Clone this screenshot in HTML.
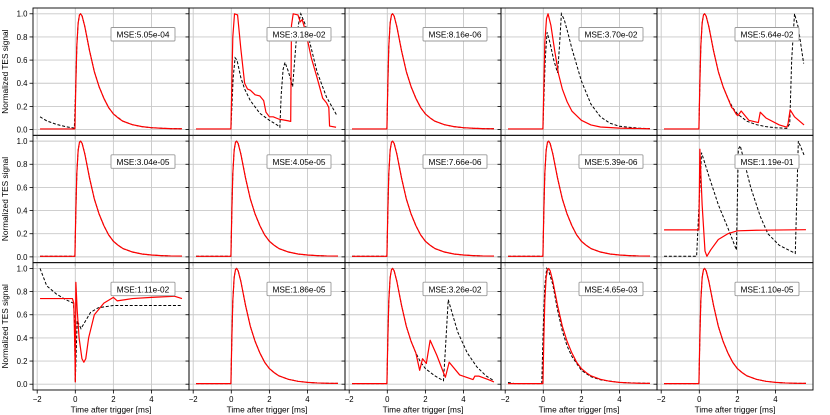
<!DOCTYPE html>
<html><head><meta charset="utf-8">
<style>
html,body{margin:0;padding:0;background:#fff;}
svg{display:block;font-family:"Liberation Sans","DejaVu Sans",sans-serif;}
</style></head>
<body>
<svg id="chart" width="830" height="415" viewBox="0 0 830 415"></svg>
<script>
// ---- data ----
const tickX = [-2, 0, 2, 4];
const tickY = [0.0, 0.2, 0.4, 0.6, 0.8, 1.0];
const tickYLabels = ["0.0", "0.2", "0.4", "0.6", "0.8", "1.0"];
const tickXLabels = ["\u22122", "0", "2", "4"];
const mseLabels = [
  "MSE:5.05e-04","MSE:3.18e-02","MSE:8.16e-06","MSE:3.70e-02","MSE:5.64e-02",
  "MSE:3.04e-05","MSE:4.05e-05","MSE:7.66e-06","MSE:5.39e-06","MSE:1.19e-01",
  "MSE:1.11e-02","MSE:1.86e-05","MSE:3.26e-02","MSE:4.65e-03","MSE:1.10e-05"
];
const basePulse = [[-1.85,0.005],[-0.02,0.005],[0.03,0.4],[0.08,0.72],[0.15,0.92],[0.22,0.99],[0.28,1.0],[0.36,0.98],[0.5,0.89],[0.75,0.68],[1.0,0.5],[1.25,0.37],[1.5,0.27],[1.75,0.19],[2.0,0.135],[2.25,0.1],[2.5,0.072],[3.0,0.042],[3.5,0.025],[4.0,0.016],[4.5,0.011],[5.0,0.008],[5.6,0.007]];
const p1Target = [[-1.85,0.11],[-1.5,0.075],[-1.0,0.045],[-0.5,0.025],[-0.05,0.012],[0.03,0.4],[0.08,0.72],[0.15,0.92],[0.22,0.99],[0.28,1.0],[0.36,0.98],[0.5,0.89],[0.75,0.68],[1.0,0.5],[1.25,0.37],[1.5,0.27],[1.75,0.19],[2.0,0.135],[2.5,0.072],[3.0,0.042],[3.5,0.025],[4.0,0.016],[5.0,0.008],[5.6,0.007]];
const p2Target = [[-1.85,0.005],[-0.02,0.005],[0.1,0.45],[0.2,0.62],[0.3,0.6],[0.5,0.45],[0.7,0.35],[1.0,0.25],[1.5,0.14],[2.0,0.08],[2.4,0.04],[2.55,0.02],[2.62,0.3],[2.72,0.52],[2.82,0.58],[3.0,0.5],[3.22,0.37],[3.4,0.75],[3.55,0.93],[3.65,1.0],[3.9,0.9],[4.2,0.7],[4.5,0.5],[5.0,0.28],[5.55,0.12]];
const p2Pred = [[-1.85,0.005],[-0.02,0.005],[0.08,0.8],[0.17,1.0],[0.33,0.99],[0.5,0.7],[0.7,0.4],[0.85,0.35],[1.0,0.34],[1.25,0.3],[1.5,0.29],[1.7,0.25],[1.82,0.15],[2.0,0.11],[2.2,0.11],[2.5,0.09],[3.0,0.075],[3.12,0.07],[3.16,0.9],[3.25,1.0],[3.5,0.99],[3.62,0.93],[3.72,0.95],[3.9,0.85],[4.2,0.62],[4.5,0.45],[4.8,0.27],[5.0,0.23],[5.12,0.19],[5.16,0.03],[5.5,0.02]];
const p4Target = [[-1.85,0.005],[-0.02,0.005],[0.1,0.6],[0.2,0.84],[0.35,0.75],[0.55,0.6],[0.75,0.49],[0.85,0.72],[0.95,1.0],[1.1,0.95],[1.3,0.83],[1.5,0.7],[2.0,0.42],[2.5,0.22],[3.0,0.11],[3.5,0.055],[4.0,0.028],[5.0,0.012],[5.6,0.008]];
const p4Pred = [[-1.85,0.005],[-0.02,0.005],[0.08,0.75],[0.17,0.96],[0.25,1.0],[0.4,0.9],[0.6,0.68],[0.8,0.48],[1.0,0.35],[1.25,0.24],[1.5,0.16],[2.0,0.08],[2.5,0.04],[3.0,0.022],[4.0,0.012],[5.6,0.007]];
const p5Target = [[-1.85,0.005],[-0.02,0.005],[0.03,0.4],[0.08,0.72],[0.15,0.92],[0.22,0.99],[0.28,1.0],[0.36,0.98],[0.5,0.89],[0.75,0.68],[1.0,0.5],[1.25,0.37],[1.5,0.27],[1.75,0.19],[2.0,0.135],[2.5,0.072],[3.0,0.042],[3.5,0.025],[4.0,0.016],[4.6,0.01],[4.75,0.05],[4.85,0.6],[5.0,1.0],[5.2,0.88],[5.48,0.57]];
const p5Pred = [[-1.85,0.005],[-0.02,0.005],[0.03,0.4],[0.08,0.72],[0.15,0.92],[0.22,0.99],[0.28,1.0],[0.36,0.98],[0.5,0.89],[0.75,0.68],[1.0,0.5],[1.25,0.37],[1.5,0.27],[1.7,0.19],[1.77,0.18],[1.95,0.13],[2.03,0.12],[2.2,0.16],[2.6,0.08],[3.1,0.06],[3.2,0.15],[3.5,0.1],[4.2,0.04],[4.6,0.02],[4.66,0.05],[4.77,0.17],[5.0,0.11],[5.5,0.04]];
const p10Target = [[-1.85,0.005],[-0.14,0.005],[0.0,0.5],[0.12,0.9],[0.5,0.7],[1.0,0.45],[1.5,0.25],[1.95,0.06],[2.05,0.93],[2.15,0.96],[2.7,0.6],[3.2,0.35],[3.6,0.2],[4.2,0.1],[4.8,0.05],[5.04,0.03],[5.2,1.0],[5.5,0.88]];
const p10Pred = [[-1.85,0.233],[-0.02,0.233],[0.03,0.93],[0.15,0.45],[0.3,0.05],[0.4,0.005],[0.6,0.06],[1.0,0.15],[1.5,0.2],[2.0,0.225],[3.0,0.23],[5.6,0.235]];
const p11Target = [[-1.85,1.0],[-1.5,0.85],[-1.0,0.78],[-0.5,0.73],[-0.1,0.7],[-0.05,0.6],[0.0,0.02],[0.1,0.55],[0.3,0.48],[0.55,0.55],[0.8,0.62],[1.2,0.66],[2.0,0.68],[5.6,0.68]];
const p11Pred = [[-1.85,0.74],[-0.15,0.74],[-0.08,0.7],[-0.02,0.3],[0.0,0.02],[0.03,0.88],[0.1,0.64],[0.2,0.4],[0.35,0.22],[0.45,0.19],[0.55,0.22],[0.7,0.4],[1.0,0.6],[1.5,0.7],[2.0,0.75],[2.2,0.72],[3.0,0.74],[4.0,0.75],[5.2,0.76],[5.6,0.74]];
const p13Target = [[-1.85,0.005],[-0.02,0.005],[0.03,0.4],[0.08,0.72],[0.15,0.92],[0.22,0.99],[0.28,1.0],[0.36,0.98],[0.5,0.89],[0.75,0.68],[1.0,0.5],[1.25,0.37],[1.5,0.27],[1.75,0.19],[2.0,0.135],[2.5,0.072],[2.95,0.03],[3.05,0.3],[3.2,0.73],[3.7,0.45],[4.2,0.27],[4.7,0.15],[5.2,0.07],[5.6,0.03]];
const p13Pred = [[-1.85,0.005],[-0.02,0.005],[0.03,0.4],[0.08,0.72],[0.15,0.92],[0.22,0.99],[0.28,1.0],[0.36,0.98],[0.5,0.89],[0.75,0.68],[1.0,0.5],[1.25,0.37],[1.5,0.27],[1.7,0.12],[1.85,0.22],[2.05,0.18],[2.25,0.38],[2.6,0.25],[2.95,0.1],[3.05,0.06],[3.25,0.19],[3.8,0.08],[4.5,0.04],[4.6,0.07],[4.8,0.07],[5.3,0.04],[5.6,0.02]];
const p14Target = [[-1.85,0.015],[-1.5,0.005],[-0.08,0.005],[0.0,0.5],[0.08,0.85],[0.18,1.0],[0.3,0.97],[0.5,0.86],[0.75,0.64],[1.0,0.46],[1.25,0.33],[1.5,0.24],[2.0,0.12],[2.5,0.065],[3.0,0.038],[4.0,0.015],[5.6,0.007]];
const targets = [p1Target,p2Target,basePulse,p4Target,p5Target,basePulse,basePulse,basePulse,basePulse,p10Target,p11Target,basePulse,p13Target,p14Target,basePulse];
const preds = [basePulse,p2Pred,basePulse,p4Pred,p5Pred,basePulse,basePulse,basePulse,basePulse,p10Pred,p11Pred,basePulse,p13Pred,basePulse,basePulse];

// ---- layout ----
const NS = "http://www.w3.org/2000/svg";
const svg = document.getElementById("chart");
const X0 = 33, PW = 156, Y0 = 8, PH = 127.33;
const XMIN = -2.22, XMAX = 5.97, YMIN = -0.05, YMAX = 1.05;
function mk(tag, attrs, parent) {
  const e = document.createElementNS(NS, tag);
  for (const k in attrs) e.setAttribute(k, attrs[k]);
  (parent || svg).appendChild(e);
  return e;
}
for (let i = 0; i < 15; i++) {
  const r = Math.floor(i / 5), c = i % 5;
  const left = X0 + c * PW, top = Y0 + r * PH;
  const sx = t => left + (t - XMIN) / (XMAX - XMIN) * PW;
  const sy = v => top + (YMAX - v) / (YMAX - YMIN) * PH;
  const g = mk("g", {});
  
  
  tickX.forEach(t => {
    const l = mk("line", {x1: sx(t), x2: sx(t), y1: top, y2: top + PH, stroke: "#c8c8c8", "stroke-width": 0.9}, g);
    
    
    mk("line", {x1: sx(t), x2: sx(t), y1: top + PH, y2: top + PH + 3.5, stroke: "#000", "stroke-width": 0.8}, g);
  });
  tickY.forEach(v => {
    const l = mk("line", {x1: left, x2: left + PW, y1: sy(v), y2: sy(v), stroke: "#c8c8c8", "stroke-width": 0.9}, g);
    
    
    mk("line", {x1: left - 3.5, x2: left, y1: sy(v), y2: sy(v), stroke: "#000", "stroke-width": 0.8}, g);
  });
  const clipId = "clip" + i;
  const cp = mk("clipPath", {id: clipId}, g);
  mk("rect", {x: left, y: top, width: PW, height: PH}, cp);
  const tPts = targets[i].map(p => sx(p[0]).toFixed(2) + "," + sy(p[1]).toFixed(2)).join(" ");
  const tl = mk("polyline", {points: tPts, fill: "none", stroke: "#000", "stroke-width": 1, "stroke-dasharray": "3,1.8", "clip-path": "url(#" + clipId + ")"}, g);
  
  
  const pPts = preds[i].map(p => sx(p[0]).toFixed(2) + "," + sy(p[1]).toFixed(2)).join(" ");
  const pl = mk("polyline", {points: pPts, fill: "none", stroke: "#ff0000", "stroke-width": 1.2, "stroke-linejoin": "round", "clip-path": "url(#" + clipId + ")"}, g);
  
  
  const bx = mk("rect", {x: left + 78, y: top + 19.5, width: 64, height: 13.5, fill: "#fff", stroke: "#999", "stroke-width": 0.9, rx: 1}, g);
  
  
  const tx = mk("text", {x: left + 110, y: top + 29.7, "font-size": 8.3, "text-anchor": "middle", fill: "#000"}, g);
  tx.textContent = mseLabels[i];
  
  
  const br = mk("rect", {x: left, y: top, width: PW, height: PH, fill: "none", stroke: "#000", "stroke-width": 0.9}, g);
  
  
  if (c === 0) {
    tickY.forEach((v, k) => {
      const yl = mk("text", {x: left - 5.5, y: sy(v) + 2.9, "font-size": 7.8, "text-anchor": "end", fill: "#000"});
      yl.textContent = tickYLabels[k];
      
      
    });
    const yt = mk("text", {x: 0, y: 0, "font-size": 8.3, "text-anchor": "middle", fill: "#000", transform: "translate(8," + (top + PH / 2) + ") rotate(-90)"});
    yt.textContent = "Normalized TES signal";
    
    
  }
  if (r === 2) {
    tickX.forEach((t, k) => {
      const xl = mk("text", {x: sx(t), y: top + PH + 12, "font-size": 7.8, "text-anchor": "middle", fill: "#000"});
      xl.textContent = tickXLabels[k];
      
      
    });
    const xt = mk("text", {x: left + PW / 2, y: top + PH + 22.5, "font-size": 8.3, "text-anchor": "middle", fill: "#000"});
    xt.textContent = "Time after trigger [ms]";
    
    
  }
}
</script>
</body></html>
